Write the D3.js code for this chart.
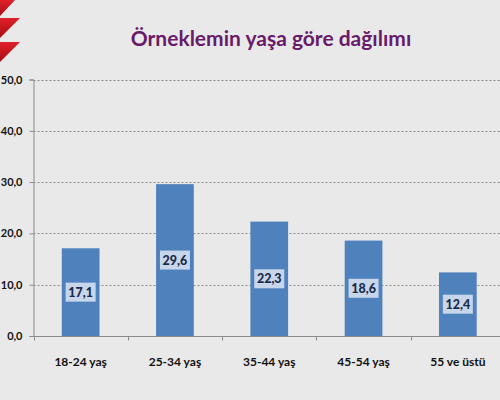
<!DOCTYPE html>
<html>
<head>
<meta charset="utf-8">
<script src="https://cdn.jsdelivr.net/npm/d3@7"></script>
<style>
  html, body { margin: 0; padding: 0; background: #e9e9e9; }
  svg { display: block; }
</style>
</head>
<body>
<script>
const categories = ["18-24 yaş", "25-34 yaş", "35-44 yaş", "45-54 yaş", "55 ve üstü"];
const values = [17.1, 29.6, 22.3, 18.6, 12.4];
const yTicks = [0, 10, 20, 30, 40, 50];
const title = "Örneklemin yaşa göre dağılımı";

const W = 500, H = 400;
const svg = d3.select("body").append("svg").attr("width", W).attr("height", H);

const defs = svg.append("defs");
const rg = defs.append("radialGradient").attr("id", "shadow")
  .attr("cx", 0).attr("cy", 0.5).attr("r", 0.5);
rg.append("stop").attr("offset", "0%").attr("stop-color", "#b5b5b5").attr("stop-opacity", 0.9);
rg.append("stop").attr("offset", "100%").attr("stop-color", "#e9e9e9").attr("stop-opacity", 0);

svg.append("rect").attr("width", W).attr("height", H).attr("fill", "#e9e9e9");
svg.append("ellipse").attr("cx", 0).attr("cy", 345).attr("rx", 14).attr("ry", 60).attr("fill", "url(#shadow)");

// decorative red triangles
const tri = [
  [[0,0],[15,0],[0,16]],
  [[0,18],[20,18],[0,38]],
  [[0,42],[20,42],[0,62]]
];
const rgrad = defs.append("linearGradient").attr("id", "redg").attr("x1", 0).attr("y1", 0).attr("x2", 0).attr("y2", 1);
rgrad.append("stop").attr("offset", "0%").attr("stop-color", "#e0202a");
rgrad.append("stop").attr("offset", "100%").attr("stop-color", "#a80d14");
svg.selectAll("path.tri").data(tri).enter().append("path")
  .attr("class", "tri")
  .attr("d", d => d3.line()(d) + "Z")
  .attr("fill", "url(#redg)");

const x = d3.scaleBand().domain(categories).range([33.5, 505]).paddingInner(0.6).paddingOuter(0.3);
const y = d3.scaleLinear().domain([0, 50]).range([336, 79.5]);

// gridlines
svg.append("g").selectAll("line").data(yTicks.filter(d => d > 0)).enter().append("line")
  .attr("x1", 33.5).attr("x2", W)
  .attr("y1", d => Math.round(y(d)) + 0.5).attr("y2", d => Math.round(y(d)) + 0.5)
  .attr("stroke", "#8a8a8a").attr("stroke-width", 1).attr("stroke-dasharray", "2,2");

// bars
svg.append("g").selectAll("rect").data(values).enter().append("rect")
  .attr("x", (d, i) => x(categories[i]))
  .attr("width", x.bandwidth())
  .attr("y", d => y(d))
  .attr("height", d => y(0) - y(d))
  .attr("fill", "#4f81bd");

// y axis
const yAxis = d3.axisLeft(y).tickValues(yTicks).tickSize(4).tickFormat(d => d3.format(".1f")(d).replace(".", ","));
const gy = svg.append("g").attr("transform", "translate(33.5,0)").call(yAxis);
gy.select(".domain").attr("stroke", "#8a8a8a");
gy.selectAll(".tick line").attr("stroke", "#8a8a8a");
gy.selectAll(".tick text").attr("x", -11).attr("font-family", "Lato, 'Open Sans', sans-serif")
  .attr("font-weight", "bold").attr("font-size", 11).attr("fill", "#111");

// x axis
const gx = svg.append("g").attr("transform", "translate(0,336.5)");
gx.append("line").attr("x1", 33.5).attr("x2", W).attr("stroke", "#8a8a8a");
const bounds = d3.range(categories.length + 1).map(i => 33.5 + i * x.step());
gx.selectAll("line.t").data(bounds).enter().append("line").attr("class", "t")
  .attr("x1", d => Math.round(d) + 0.5).attr("x2", d => Math.round(d) + 0.5)
  .attr("y1", 0).attr("y2", 4).attr("stroke", "#8a8a8a");
gx.selectAll("text").data(categories).enter().append("text")
  .attr("x", d => x(d) + x.bandwidth() / 2)
  .attr("y", 29)
  .attr("text-anchor", "middle")
  .attr("font-family", "Lato, 'Open Sans', sans-serif")
  .attr("font-weight", "bold").attr("font-size", 12).attr("fill", "#111")
  .text(d => d);

// data labels
const lab = svg.append("g").selectAll("g").data(values).enter().append("g")
  .attr("transform", (d, i) => `translate(${x(categories[i]) + x.bandwidth() / 2},${(y(d) + y(0)) / 2})`);
lab.append("rect").attr("x", -15).attr("y", -9.5).attr("width", 30).attr("height", 19).attr("fill", "#c8d6eb");
lab.append("text").attr("text-anchor", "middle").attr("dy", "0.36em")
  .attr("font-family", "Lato, 'Open Sans', sans-serif")
  .attr("font-weight", "900").attr("font-size", 12.5).attr("fill", "#1a2a48")
  .text(d => d3.format(".1f")(d).replace(".", ","));

// title
svg.append("text").attr("x", 271).attr("y", 46).attr("text-anchor", "middle")
  .attr("font-family", "Lato, 'Open Sans', sans-serif")
  .attr("font-weight", "bold").attr("font-size", 21).attr("fill", "#6a1a6a")
  .text(title);
</script>
</body>
</html>
